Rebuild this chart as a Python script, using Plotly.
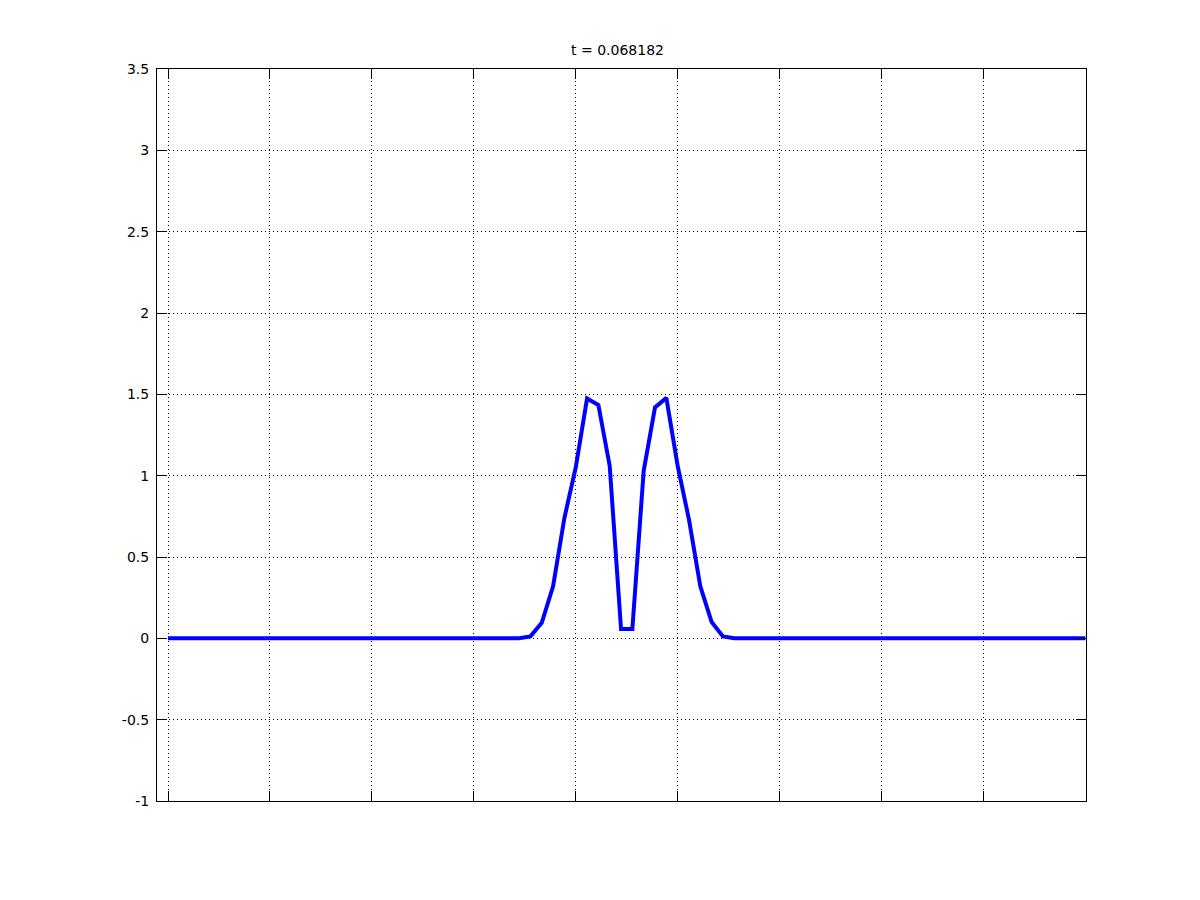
import plotly.graph_objects as go

# x grid: 82 samples from 0 to 9
n_points = 82
x_start = 0.0
x_end = 9.0
x_vals = [x_start + i * (x_end - x_start) / (n_points - 1) for i in range(n_points)]

# nonzero values (indices 31..50)
bump_start_index = 31
bump_values = [0.0, 0.012, 0.095, 0.32, 0.74, 1.05, 1.475, 1.435, 1.06, 0.057,
               0.057, 1.03, 1.42, 1.478, 1.06, 0.73, 0.32, 0.10, 0.012, 0.0]

y_vals = [0.0] * n_points
for k, v in enumerate(bump_values):
    y_vals[bump_start_index + k] = v

title_text = "t = 0.068182"
y_ticks = [-1, -0.5, 0, 0.5, 1, 1.5, 2, 2.5, 3, 3.5]
y_tick_labels = ["-1", "-0.5", "0", "0.5", "1", "1.5", "2", "2.5", "3", "3.5"]
x_ticks = [0, 1, 2, 3, 4, 5, 6, 7, 8]

fig = go.Figure()
fig.add_trace(go.Scatter(x=x_vals, y=y_vals, mode="lines",
                         line=dict(color="#0000FF", width=4), showlegend=False))

axis_common = dict(
    showline=True, linecolor="black", linewidth=1, mirror="ticks",
    ticks="inside", ticklen=10, tickwidth=1, tickcolor="black",
    showgrid=True, gridcolor="black", gridwidth=1, griddash="1px,3px",
    zeroline=False,
)

fig.update_layout(
    width=1200, height=900,
    margin=dict(l=149, r=122, t=61, b=107),
    paper_bgcolor="white", plot_bgcolor="white",
    font=dict(family="DejaVu Sans, Liberation Sans, sans-serif", size=14, color="black"),
    title=dict(text=title_text, x=(617.5 - 8) / 1200, xanchor="center", y=1 - 42 / 900,
               yanchor="middle", font=dict(size=14, color="black")),
    xaxis=dict(range=[-0.108, 9.006], tickvals=x_ticks, showticklabels=False, **axis_common),
    yaxis=dict(range=[-1, 3.5], tickvals=y_ticks, ticktext=y_tick_labels,
               tickfont=dict(size=14), ticklabelstandoff=4, **axis_common),
)

fig.write_html("out.html")
